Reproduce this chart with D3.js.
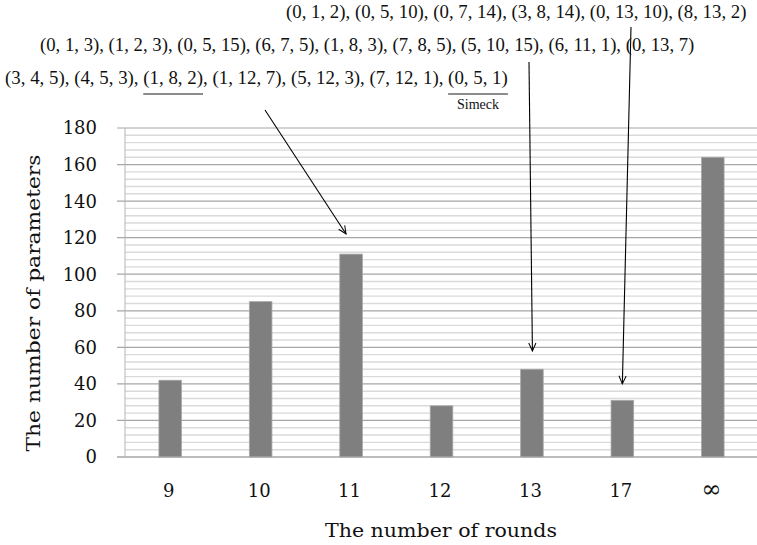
<!DOCTYPE html>
<html>
<head>
<meta charset="utf-8">
<script src="https://cdn.jsdelivr.net/npm/d3@7"></script>
<style>
  html, body { margin: 0; padding: 0; background: #fff; }
  svg { display: block; }
  text { font-family: "DejaVu Serif", "Liberation Serif", serif; fill: #111; }
  text.note { font-family: "Liberation Serif", "DejaVu Serif", serif; }
</style>
</head>
<body>
<svg id="chart" width="757" height="545"></svg>
<script>
'use strict';

// data
const categories = ['9', '10', '11', '12', '13', '17', '\u221E'];
const counts = [42, 85, 111, 28, 48, 31, 164];
const yMajorTicks = d3.range(0, 181, 20);
const yMinorTicks = d3.range(0, 181, 4);

const noteRows = [
    '(0, 1, 2), (0, 5, 10), (0, 7, 14), (3, 8, 14), (0, 13, 10), (8, 13, 2)',
    '(0, 1, 3), (1, 2, 3), (0, 5, 15), (6, 7, 5), (1, 8, 3), (7, 8, 5), (5, 10, 15), (6, 11, 1), (0, 13, 7)',
    '(3, 4, 5), (4, 5, 3), (1, 8, 2), (1, 12, 7), (5, 12, 3), (7, 12, 1), (0, 5, 1)'
];
const noteTargets = ['17', '13', '11'];
const noteTipValues = [40, 58, 122];
const underlined = ['(1, 8, 2)', '(0, 5, 1)'];
const simeckLabel = 'Simeck';

// layout
const plot = { left: 125, right: 758, top: 128, bottom: 457 };
const rowLayout = [
    { x0: 286, x1: 747, y: 18, arrowX: 631, arrowY: 27, tipDx: 0 },
    { x0: 40, x1: 695, y: 51, arrowX: 529, arrowY: 62, tipDx: 0.5 },
    { x0: 5, x1: 508, y: 84, arrowX: 265, arrowY: 110, tipDx: -5 }
];

const svg = d3.select('#chart');

const x = d3.scaleBand()
    .domain(categories)
    .range([plot.left, plot.right])
    .paddingInner(0.75)
    .paddingOuter(0.375);

const y = d3.scaleLinear()
    .domain([0, 180])
    .range([plot.bottom, plot.top]);

// grid
svg.append('g')
    .selectAll('line')
    .data(yMinorTicks.filter(v => v % 20 !== 0))
    .join('line')
    .attr('x1', plot.left)
    .attr('x2', plot.right)
    .attr('y1', d => y(d))
    .attr('y2', d => y(d))
    .attr('stroke', '#dadada')
    .attr('stroke-width', 1.4);

svg.append('g')
    .selectAll('line')
    .data(yMajorTicks)
    .join('line')
    .attr('x1', plot.left - 8)
    .attr('x2', plot.right)
    .attr('y1', d => y(d))
    .attr('y2', d => y(d))
    .attr('stroke', '#a6a6a6')
    .attr('stroke-width', 1.2);

svg.append('line')
    .attr('x1', plot.left).attr('x2', plot.left)
    .attr('y1', plot.top).attr('y2', plot.bottom)
    .attr('stroke', '#b4b4b4')
    .attr('stroke-width', 1);

// y axis labels
svg.append('g')
    .selectAll('text')
    .data(yMajorTicks)
    .join('text')
    .attr('x', plot.left - 28)
    .attr('y', d => y(d))
    .attr('dy', '0.36em')
    .attr('text-anchor', 'end')
    .attr('font-size', 18)
    .text(d => d);

// bars
svg.append('g')
    .selectAll('rect')
    .data(categories.map((c, i) => ({ c, v: counts[i] })))
    .join('rect')
    .attr('x', d => x(d.c))
    .attr('y', d => y(d.v))
    .attr('width', x.bandwidth())
    .attr('height', d => y(0) - y(d.v))
    .attr('fill', '#7f7f7f')
    .attr('stroke', '#a8a8a8')
    .attr('stroke-width', 0.8);

// x axis baseline on top of bars
svg.append('line')
    .attr('x1', plot.left - 8).attr('x2', plot.right)
    .attr('y1', y(0)).attr('y2', y(0))
    .attr('stroke', '#a6a6a6')
    .attr('stroke-width', 1.2);

// x tick labels
svg.append('g')
    .selectAll('text')
    .data(categories)
    .join('text')
    .attr('x', d => x(d) + x.bandwidth() / 2 - 1.5)
    .attr('y', 497)
    .attr('text-anchor', 'middle')
    .attr('font-size', d => d === '\u221E' ? 24 : 18)
    .text(d => d);

// axis titles
svg.append('text')
    .attr('x', 441)
    .attr('y', 537)
    .attr('text-anchor', 'middle')
    .attr('font-size', 18)
    .attr('textLength', 232)
    .attr('lengthAdjust', 'spacingAndGlyphs')
    .text('The number of rounds');

svg.append('text')
    .attr('transform', 'translate(40,303) rotate(-90)')
    .attr('text-anchor', 'middle')
    .attr('font-size', 18)
    .attr('textLength', 297)
    .attr('lengthAdjust', 'spacingAndGlyphs')
    .text('The number of parameters');

// annotations
svg.append('defs').append('marker')
    .attr('id', 'head')
    .attr('viewBox', '-10 -6 12 12')
    .attr('refX', 0)
    .attr('refY', 0)
    .attr('markerWidth', 12)
    .attr('markerHeight', 12)
    .attr('markerUnits', 'userSpaceOnUse')
    .attr('orient', 'auto')
    .append('path')
    .attr('d', 'M-8,-3.6L0,0L-8,3.6')
    .attr('fill', 'none')
    .attr('stroke', '#000')
    .attr('stroke-width', 1);

noteRows.forEach((row, i) => {
    const lay = rowLayout[i];
    const t = svg.append('text')
        .attr('class', 'note')
        .attr('x', lay.x0)
        .attr('y', lay.y)
        .attr('font-size', 18)
        .text(row);

    // fit the row to its width by font size, so the text never runs past the edge
    const natural = t.node().getComputedTextLength();
    t.attr('font-size', 18 * (lay.x1 - lay.x0) / natural);

    underlined.forEach(u => {
        const k = row.indexOf(u);
        if (k < 0) return;
        const node = t.node();
        const a = node.getStartPositionOfChar(k).x;
        const b = node.getEndPositionOfChar(k + u.length - 1).x;
        svg.append('line')
            .attr('x1', a).attr('x2', b)
            .attr('y1', lay.y + 10).attr('y2', lay.y + 10)
            .attr('stroke', '#000')
            .attr('stroke-width', 0.9);
        if (u === underlined[1]) {
            svg.append('text')
                .attr('class', 'note')
                .attr('x', (a + b) / 2)
                .attr('y', lay.y + 25)
                .attr('text-anchor', 'middle')
                .attr('font-size', 14)
                .text(simeckLabel);
        }
    });

    const cat = noteTargets[i];
    svg.append('line')
        .attr('x1', lay.arrowX)
        .attr('y1', lay.arrowY)
        .attr('x2', x(cat) + x.bandwidth() / 2 + lay.tipDx)
        .attr('y2', y(noteTipValues[i]))
        .attr('stroke', '#000')
        .attr('stroke-width', 1.1)
        .attr('marker-end', 'url(#head)');
});
</script>
</body>
</html>
